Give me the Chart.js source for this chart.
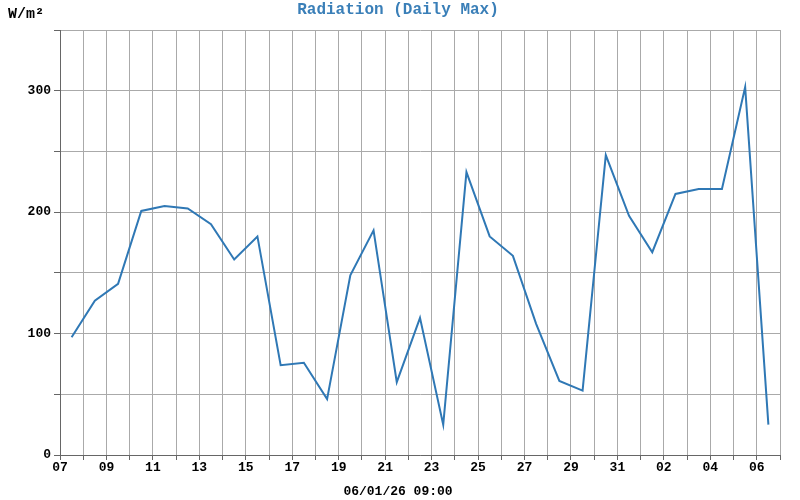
<!DOCTYPE html>
<html>
<head>
<meta charset="utf-8">
<script src="https://cdn.jsdelivr.net/npm/chart.js@4"></script>
<style>
  body { margin: 0; background: #fff; }
</style>
</head>
<body>
<canvas id="radChart" width="800" height="500"></canvas>
<script>
// day labels for each grid line, starting at the 7th
const dayLabels = ['07','08','09','10','11','12','13','14','15','16','17','18','19','20','21','22','23','24','25','26','27','28','29','30','31','01','02','03','04','05','06','07'];
// daily max radiation, one value per day (plotted at midday)
const radValues = [97,127,141,201,205,203,190,161,180,74,76,46,148,185,60,113,25,233,180,164,108,61,53,247,197,167,215,219,219,303,25];
const chartTitle = 'Radiation (Daily Max)';
const unitLabel = 'W/m²';
const timeLabel = '06/01/26 09:00';

const mono = "'Liberation Mono', 'DejaVu Sans Mono', monospace";

const overlay = {
    id: 'overlay',
    afterDraw(chart) {
        const ctx = chart.ctx;
        const area = chart.chartArea;
        ctx.save();
        ctx.fillStyle = '#3a7fb8';
        ctx.font = 'bold 16px ' + mono;
        ctx.textAlign = 'center';
        ctx.textBaseline = 'middle';
        ctx.fillText(chartTitle, 398, 10);
        ctx.fillStyle = '#000';
        ctx.font = 'bold 15px ' + mono;
        ctx.textAlign = 'left';
        ctx.fillText(unitLabel, 8, 14);
        ctx.font = 'bold 13px ' + mono;
        ctx.textAlign = 'center';
        ctx.fillText(timeLabel, 398, 492);
        ctx.restore();
    }
};

new Chart(document.getElementById('radChart'), {
    type: 'line',
    data: {
        datasets: [{
            data: radValues.map((v, i) => ({ x: i + 0.5, y: v })),
            borderColor: '#2f78b5',
            borderWidth: 2,
            pointRadius: 0,
            tension: 0,
            fill: false
        }]
    },
    options: {
        responsive: false,
        animation: false,
        layout: { padding: { top: 30, right: 20, left: 0, bottom: 0 } },
        plugins: { legend: { display: false }, tooltip: { enabled: false } },
        scales: {
            x: {
                type: 'linear',
                min: 0,
                max: 31,
                afterFit(s) { s.height = 45; },
                afterBuildTicks(s) {
                    s.ticks = dayLabels.map((_, i) => ({ value: i }));
                },
                ticks: {
                    autoSkip: false,
                    maxRotation: 0,
                    color: '#000',
                    padding: 0,
                    font: { family: mono, size: 13, weight: 'bold' },
                    callback: (v) => (v % 2 === 0 && v < 31) ? dayLabels[v] : ''
                },
                grid: { color: '#aaa', tickLength: 5, tickColor: '#666' },
                border: { color: '#666' }
            },
            y: {
                min: 0,
                max: 350,
                afterFit(s) { s.width = 60; },
                ticks: {
                    stepSize: 50,
                    color: '#000',
                    font: { family: mono, size: 13, weight: 'bold' },
                    callback: (v) => v % 100 === 0 ? v : ''
                },
                grid: { color: '#aaa', tickLength: 6, tickColor: '#666' },
                border: { color: '#666' }
            }
        }
    },
    plugins: [overlay]
});
</script>
</body>
</html>
